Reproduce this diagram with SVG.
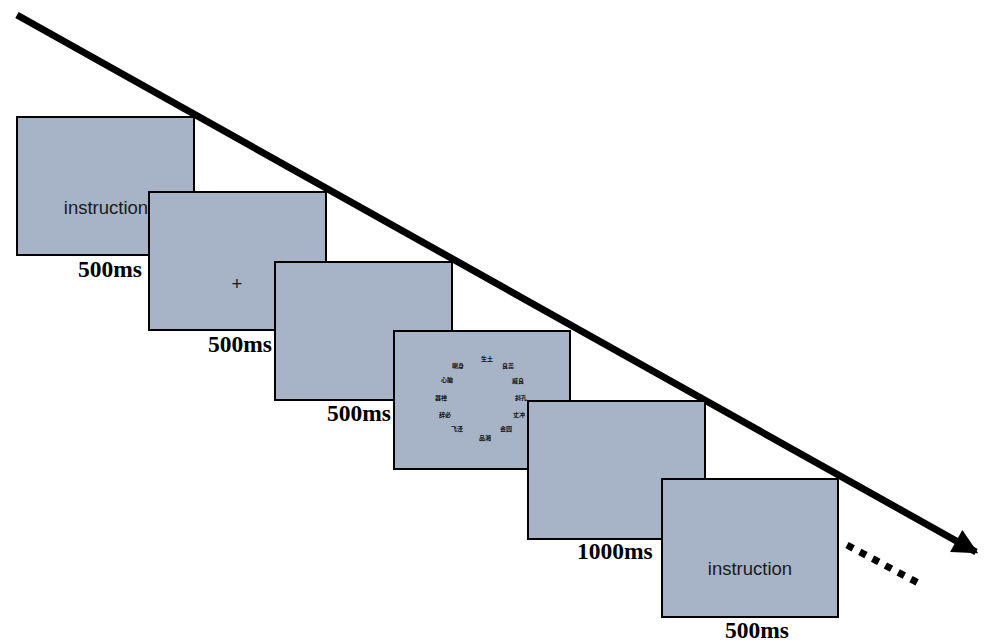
<svg xmlns="http://www.w3.org/2000/svg" width="985" height="642" viewBox="0 0 985 642">
  <style>
    .screen { fill: #a7b3c7; stroke: #000; stroke-width: 2; }
    .dur { font-family: "Liberation Serif", "Times New Roman", serif; font-weight: bold; font-size: 23.5px; fill: #000; }
    .txt { font-family: "Liberation Sans", Arial, sans-serif; font-size: 18.5px; fill: #1a1a1a; text-anchor: middle; }
    .word { font-family: "Noto Sans CJK SC", "Noto Sans", sans-serif; font-weight: bold; font-size: 6px; fill: #111; text-anchor: middle; }
    .timeline { stroke: #000; stroke-width: 7; fill: none; }
  </style>
  <defs>
    <marker id="head" viewBox="0 0 10 10" refX="9" refY="5" markerWidth="4.2" markerHeight="3.6" orient="auto" markerUnits="strokeWidth">
      <path d="M0,0 L10,5 L0,10 Z" fill="#000"/>
    </marker>
  </defs>
  <rect width="985" height="642" fill="#fff"/>

  <!-- timeline and continuation -->
  <g id="connectors">
    <line class="timeline" x1="17" y1="15" x2="976" y2="552" marker-end="url(#head)"/>
    <line x1="847" y1="545" x2="922" y2="585" stroke="#000" stroke-width="7" stroke-dasharray="7 7.5"/>
  </g>

  <g id="screen-instruction-1">
    <rect class="screen" x="17" y="117" width="177" height="138"/>
    <text class="txt" x="106" y="214">instruction</text>
    <text class="dur" x="78" y="277">500ms</text>
  </g>

  <g id="screen-fixation">
    <rect class="screen" x="149" y="192" width="177" height="138"/>
    <text class="txt" x="237" y="290" font-size="21">+</text>
    <text class="dur" x="208" y="352">500ms</text>
  </g>

  <g id="screen-blank-1">
    <rect class="screen" x="275" y="262" width="177" height="138"/>
    <text class="dur" x="327" y="421">500ms</text>
  </g>

  <g id="screen-array">
    <rect class="screen" x="394" y="331" width="176" height="138"/>
    <text class="word" x="487" y="361">生土</text>
    <text class="word" x="508" y="368">良蕊</text>
    <text class="word" x="518" y="383">臧良</text>
    <text class="word" x="521" y="400">斜孔</text>
    <text class="word" x="519" y="417">丈冲</text>
    <text class="word" x="506" y="431">会园</text>
    <text class="word" x="485" y="440">品湘</text>
    <text class="word" x="457" y="431">飞泽</text>
    <text class="word" x="445" y="417">辞必</text>
    <text class="word" x="441" y="400">器禅</text>
    <text class="word" x="447" y="382">心脑</text>
    <text class="word" x="458" y="368">喇身</text>
  </g>

  <g id="screen-blank-2">
    <rect class="screen" x="528" y="401" width="177" height="138"/>
    <text class="dur" x="577" y="559">1000ms</text>
  </g>

  <g id="screen-instruction-2">
    <rect class="screen" x="662" y="479" width="176" height="138"/>
    <text class="txt" x="750" y="575">instruction</text>
    <text class="dur" x="725" y="638">500ms</text>
  </g>
</svg>
